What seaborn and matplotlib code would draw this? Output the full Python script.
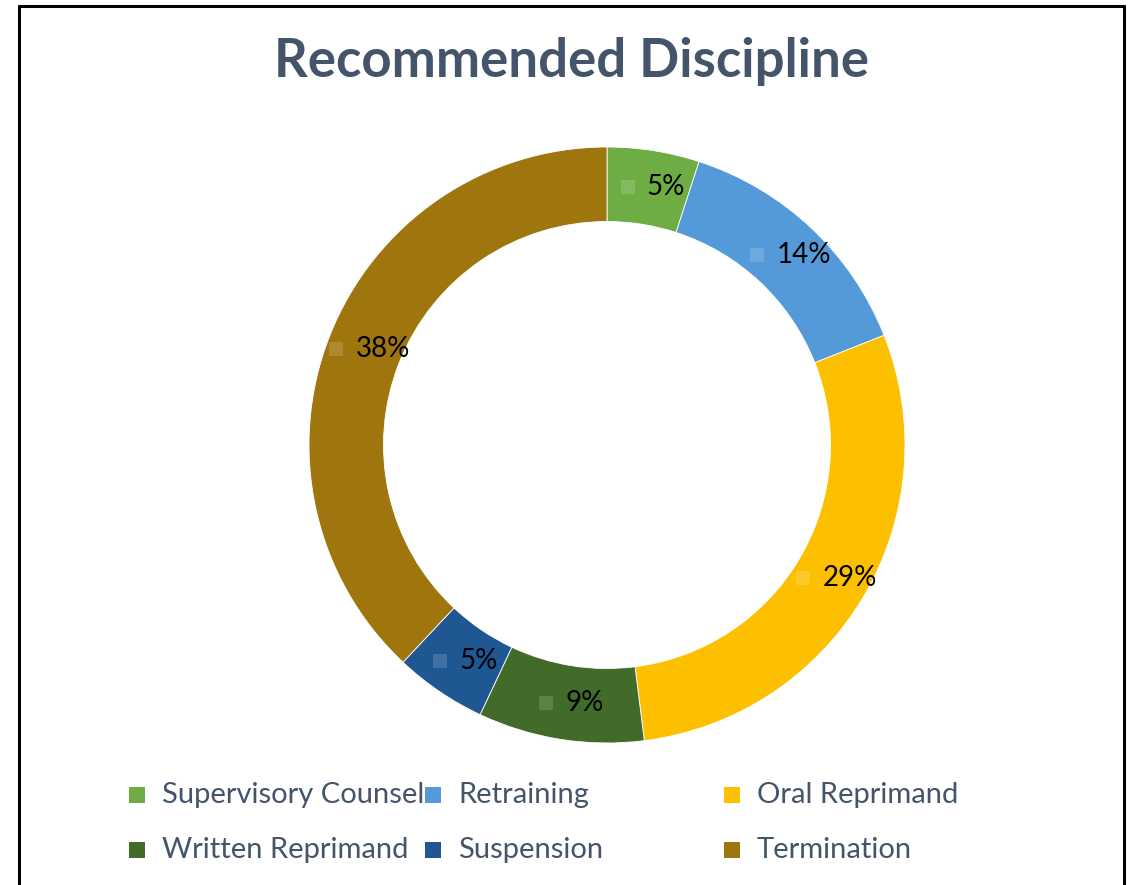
import matplotlib
matplotlib.use("Agg")
import matplotlib.pyplot as plt
import numpy as np
import seaborn as sns
from matplotlib.lines import Line2D
from matplotlib.patches import Rectangle
import matplotlib.colors as mcolors

sns.set_theme(style="white")
plt.rcParams["font.family"] = ["Lato", "DejaVu Sans"]

categories = ["Supervisory Counsel", "Retraining", "Oral Reprimand",
              "Written Reprimand", "Suspension", "Termination"]
shares = [5, 14, 29, 9, 5, 38]
colors = ["#6DAD43", "#559AD8", "#FDC000", "#426B29", "#1F5792", "#9F750D"]

W, H = 1137, 885
fig = plt.figure(figsize=(W / 100, H / 100), dpi=100)
renderer = fig.canvas.get_renderer()

# donut axes: centre (607, 445) px, outer radius 298 px
cx, cy, R = 607, 445, 298
ax = fig.add_axes([(cx - 300) / W, (H - cy - 300) / H, 600 / W, 600 / H])
wedges, _ = ax.pie(shares, colors=colors, startangle=90, counterclock=False,
                   radius=1, wedgeprops=dict(width=0.25, edgecolor="white", linewidth=0.6))
lim = 300 / R
ax.set_xlim(-lim, lim)
ax.set_ylim(-lim, lim)
ax.set_aspect("equal")
ax.axis("off")

# percentage labels with small legend keys, group centred on the ring
cum = np.cumsum([0] + shares[:-1])
total = sum(shares)
key, gap = 14, 12
for c, v, col in zip(cum, shares, colors):
    ang = np.deg2rad(90 - (c + v / 2) / total * 360)
    x, y = 0.875 * np.cos(ang), 0.875 * np.sin(ang)
    light = mcolors.to_hex(np.array(mcolors.to_rgb(col)) * 0.85 + 0.15)
    t = ax.annotate(f"{v}%", xy=(x, y), xytext=(0, 0), textcoords="offset pixels",
                    ha="left", va="center", fontsize=20, color="black", zorder=6)
    tw = t.get_window_extent(renderer).width
    left = 5 - (key + gap + tw) / 2
    t.set_position((left + key + gap, 0))
    ax.annotate("", xy=(x, y))
    ax.plot([x], [y], marker="s", markersize=key * 0.72, color=light,
            markeredgewidth=0, zorder=5,
            transform=ax.transData + matplotlib.transforms.ScaledTranslation(
                (left + key / 2) / 100, 0, fig.dpi_scale_trans))

# title
fig.text(572 / W, 1 - 62 / H, "Recommended Discipline", ha="center", va="center",
         fontsize=38, fontweight="bold", color="#44546A")

# legend, laid out like the original
leg_pos = [(137, 795), (433, 795), (732, 795), (137, 850), (433, 850), (732, 850)]
for (px, py), name, col in zip(leg_pos, categories, colors):
    fig.patches.append(Rectangle(((px - 8) / W, 1 - (py + 8) / H), 16 / W, 16 / H,
                                 transform=fig.transFigure, facecolor=col, edgecolor="none"))
    fig.text((px + 25) / W, 1 - py / H, name, ha="left", va="center",
             fontsize=21, color="#44546A")

# border of the chart area
for xs, ys in [([19, 19], [6, H + 5]), ([19, 1124], [6, 6]), ([1124, 1124], [6, H + 5])]:
    fig.add_artist(Line2D([x / W for x in xs], [1 - y / H for y in ys],
                          color="black", linewidth=2.2, transform=fig.transFigure))

fig.savefig("out.png", dpi=100, facecolor="white")
